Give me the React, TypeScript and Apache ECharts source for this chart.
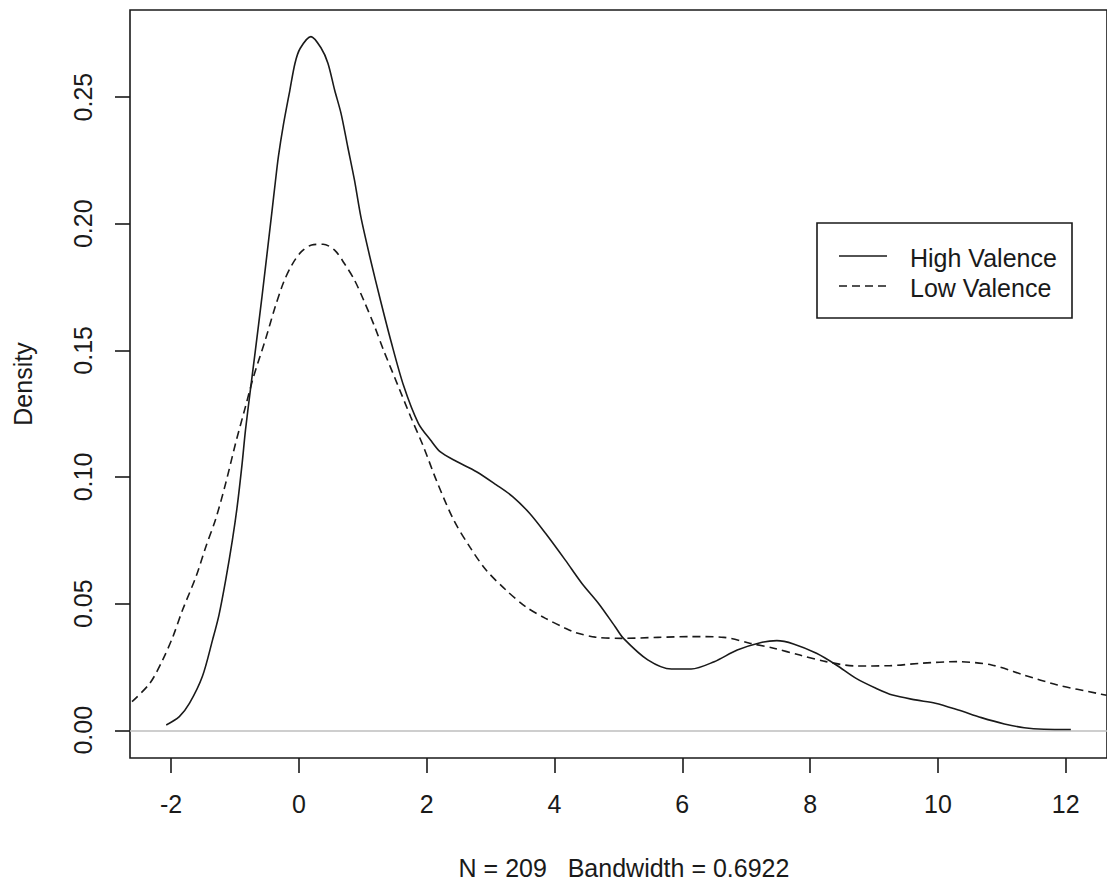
import React, { useEffect, useRef } from "react";
import * as echarts from "echarts";

const highX = [-2.075, -1.87, -1.71, -1.51, -1.35, -1.25, -1.145, -1.04, -0.965, -0.888, -0.835, -0.758, -0.68, -0.58, -0.42, -0.37, -0.32, -0.24, -0.14, -0.06, 0.02, 0.19, 0.35, 0.455, 0.56, 0.66, 0.765, 0.87, 0.97, 1.12, 1.28, 1.44, 1.64, 1.87, 2.06, 2.21, 2.47, 2.78, 3.09, 3.35, 3.61, 3.86, 4.17, 4.43, 4.69, 4.95, 5.08, 5.46, 5.83, 6.14, 6.5, 6.86, 7.22, 7.48, 7.74, 8.1, 8.41, 8.72, 9.03, 9.29, 9.65, 9.96, 10.32, 10.68, 11.04, 11.35, 11.66, 12.08];
const highY = [0.0021, 0.0054, 0.0107, 0.0212, 0.0357, 0.0455, 0.0593, 0.0751, 0.0883, 0.1052, 0.1185, 0.1344, 0.15, 0.1705, 0.205, 0.216, 0.2265, 0.2393, 0.2528, 0.2634, 0.2692, 0.2739, 0.2693, 0.2634, 0.2528, 0.2436, 0.2304, 0.2173, 0.2028, 0.186, 0.1695, 0.1538, 0.136, 0.1212, 0.1146, 0.11, 0.1061, 0.1021, 0.0969, 0.0922, 0.0857, 0.0778, 0.0672, 0.058, 0.0501, 0.0409, 0.0363, 0.0278, 0.0242, 0.0242, 0.0271, 0.0317, 0.0346, 0.0354, 0.0341, 0.0304, 0.0258, 0.0205, 0.0166, 0.0139, 0.012, 0.0107, 0.008, 0.005, 0.0025, 0.001, 0.0004, 0.0003];

const lowX = [-2.61, -2.33, -2.13, -1.97, -1.82, -1.61, -1.455, -1.3, -1.145, -0.99, -0.835, -0.71, -0.525, -0.37, -0.24, -0.11, 0.04, 0.2, 0.38, 0.56, 0.71, 0.87, 1.02, 1.18, 1.33, 1.54, 1.75, 1.95, 2.16, 2.42, 2.68, 2.93, 3.24, 3.55, 3.86, 4.17, 4.33, 4.64, 5.05, 5.62, 6.14, 6.65, 7.07, 7.43, 7.84, 8.25, 8.72, 9.24, 9.75, 10.3, 10.84, 11.35, 11.87, 12.49, 12.64];
const lowY = [0.0113, 0.0186, 0.0278, 0.037, 0.0475, 0.0606, 0.0725, 0.0835, 0.0975, 0.1133, 0.1278, 0.1395, 0.1541, 0.1672, 0.1768, 0.1837, 0.189, 0.1916, 0.1919, 0.1896, 0.1844, 0.1778, 0.1695, 0.1598, 0.1498, 0.1368, 0.1238, 0.112, 0.0982, 0.0832, 0.0722, 0.0633, 0.0554, 0.0488, 0.0442, 0.0403, 0.0386, 0.0368, 0.0363, 0.0367, 0.037, 0.0367, 0.0343, 0.0324, 0.0297, 0.0271, 0.0254, 0.0255, 0.0265, 0.0271, 0.0258, 0.0218, 0.0179, 0.0146, 0.0138];

const xTicks = [-2, 0, 2, 4, 6, 8, 10, 12];
const yTicks = [0, 0.05, 0.1, 0.15, 0.2, 0.25];

const seriesNames = ["High Valence", "Low Valence"];
const xTitle = "N = 209   Bandwidth = 0.6922";
const yTitle = "Density";

const FONT = "'Liberation Sans', Arial, sans-serif";
const INK = "#1a1a1a";

export default function App() {
  const ref = useRef<HTMLDivElement>(null);
  useEffect(() => {
    if (!ref.current) return;
    const chart = echarts.init(ref.current, undefined, { renderer: "svg" });
    const high = highX.map((x, i) => [x, highY[i]]);
    const low = lowX.map((x, i) => [x, lowY[i]]);
    chart.setOption({
      animation: false,
      backgroundColor: "#ffffff",
      textStyle: { fontFamily: FONT },
      grid: {
        left: 130,
        right: -10,
        top: 10,
        bottom: 125,
        show: true,
        borderColor: INK,
        borderWidth: 1.6,
        backgroundColor: "transparent",
      },
      xAxis: {
        type: "value",
        min: -2.642,
        max: 12.646,
        axisLine: { show: false, onZero: false },
        splitLine: { show: false },
        axisTick: {
          show: true,
          length: 15,
          inside: false,
          customValues: xTicks,
          lineStyle: { color: INK, width: 1.6 },
        },
        axisLabel: {
          customValues: xTicks,
          margin: 33,
          fontSize: 25,
          color: INK,
          fontFamily: FONT,
          formatter: (v: number) => String(v),
        },
      },
      yAxis: {
        type: "value",
        min: -0.01094,
        max: 0.2844,
        axisLine: { show: false, onZero: false },
        splitLine: { show: false },
        axisTick: {
          show: true,
          length: 15,
          inside: false,
          customValues: yTicks,
          lineStyle: { color: INK, width: 1.6 },
        },
        axisLabel: {
          customValues: yTicks,
          rotate: 90,
          margin: 35,
          fontSize: 25,
          color: INK,
          fontFamily: FONT,
          formatter: (v: number) => v.toFixed(2),
        },
      },
      series: [
        {
          name: seriesNames[0],
          type: "line",
          data: high,
          showSymbol: false,
          smooth: 0.3,
          lineStyle: { color: INK, width: 1.6, type: "solid" },
          z: 3,
          markLine: {
            silent: true,
            symbol: ["none", "none"],
            label: { show: false },
            lineStyle: { color: "#BEBEBE", width: 1.5, type: "solid" },
            data: [{ yAxis: 0 }],
            z: 1,
          },
        },
        {
          name: seriesNames[1],
          type: "line",
          data: low,
          showSymbol: false,
          smooth: 0.3,
          lineStyle: { color: INK, width: 1.6, type: [8, 5] },
          z: 3,
        },
      ],
      graphic: [
        {
          type: "text",
          x: 23,
          y: 384,
          rotation: Math.PI / 2,
          style: {
            text: yTitle,
            font: `25px ${FONT}`,
            fill: INK,
            textAlign: "center",
            textVerticalAlign: "middle",
          },
        },
        {
          type: "text",
          x: 624,
          y: 868,
          style: {
            text: xTitle,
            font: `25px ${FONT}`,
            fill: INK,
            textAlign: "center",
            textVerticalAlign: "middle",
          },
        },
        {
          type: "group",
          children: [
            {
              type: "rect",
              shape: { x: 817, y: 223, width: 255, height: 95 },
              style: { fill: "#ffffff", stroke: INK, lineWidth: 1.6 },
            },
            {
              type: "line",
              shape: { x1: 839, y1: 256, x2: 887, y2: 256 },
              style: { stroke: INK, lineWidth: 1.6 },
            },
            {
              type: "line",
              shape: { x1: 839, y1: 286, x2: 887, y2: 286 },
              style: { stroke: INK, lineWidth: 1.6, lineDash: [8, 5] },
            },
            {
              type: "text",
              x: 910,
              y: 257.5,
              style: {
                text: seriesNames[0],
                font: `25px ${FONT}`,
                fill: INK,
                textAlign: "left",
                textVerticalAlign: "middle",
              },
            },
            {
              type: "text",
              x: 910,
              y: 287.5,
              style: {
                text: seriesNames[1],
                font: `25px ${FONT}`,
                fill: INK,
                textAlign: "left",
                textVerticalAlign: "middle",
              },
            },
          ],
        },
      ],
    });
    return () => chart.dispose();
  }, []);
  return (
    <div
      ref={ref}
      style={{ position: "absolute", left: 0, top: 0, width: 1107, height: 883 }}
    />
  );
}
